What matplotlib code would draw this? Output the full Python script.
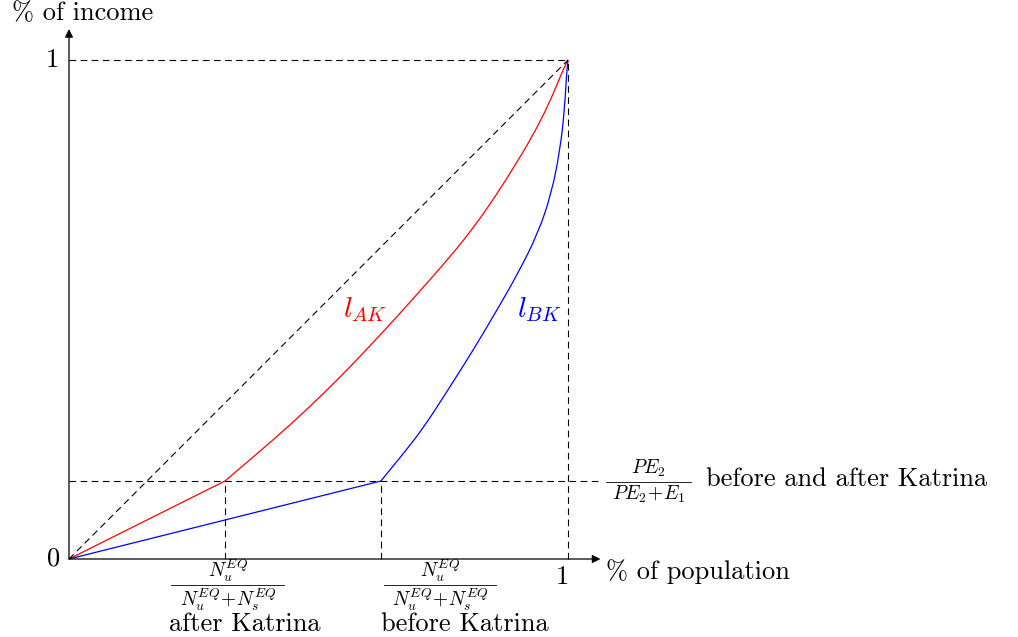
import matplotlib
matplotlib.use("Agg")
import matplotlib.pyplot as plt
from matplotlib.path import Path
from matplotlib.patches import PathPatch

plt.rcParams['mathtext.fontset'] = 'cm'
plt.rcParams['font.family'] = ['cmr10', 'DejaVu Serif']
plt.rcParams['axes.formatter.use_mathtext'] = True

# kink points (share of population, share of income)
x_after = 0.3126
x_before = 0.625
y_share = 0.1563

# l_AK (after Katrina)
ak_x = [0, 0.3126, 0.3788, 0.4429, 0.5030, 0.5671, 0.6273, 0.6874, 0.7635,
        0.8116, 0.8537, 0.8918, 0.9279, 0.9629, 0.9940, 1.0]
ak_y = [0, 0.1563, 0.2124, 0.2685, 0.3246, 0.3888, 0.4529, 0.5190, 0.6052,
        0.6653, 0.7255, 0.7856, 0.8457, 0.9138, 0.9900, 1.0]

# l_BK (before Katrina)
bk_x = [0, 0.625, 0.6713, 0.7114, 0.7595, 0.8102, 0.8597, 0.8998, 0.9399,
        0.9669, 0.9840, 0.9930, 0.9980, 1.0]
bk_y = [0, 0.1563, 0.2124, 0.2645, 0.3387, 0.4188, 0.5024, 0.5725, 0.6527,
        0.7329, 0.8196, 0.8998, 0.9866, 1.0]


def lorenz_path(xs, ys):
    # straight to the kink, then a smooth quadratic B-spline through the read points
    verts = [(xs[0], ys[0]), (xs[1], ys[1])]
    codes = [Path.MOVETO, Path.LINETO]
    n = len(xs)
    for i in range(2, n - 1):
        if i < n - 2:
            end = ((xs[i] + xs[i + 1]) / 2, (ys[i] + ys[i + 1]) / 2)
        else:
            end = (xs[-1], ys[-1])
        verts += [(xs[i], ys[i]), end]
        codes += [Path.CURVE3, Path.CURVE3]
    return Path(verts, codes)


fig = plt.figure(figsize=(10.18, 6.37), dpi=100)
ax = fig.add_axes([0, 0, 1, 1])
ax.set_xlim(-69 / 499, (1018 - 69) / 499)
ax.set_ylim(-78 / 499, (637 - 78) / 499)
ax.axis('off')

dash = dict(color='black', lw=0.8, dashes=(6, 4))
ax.plot([0, 1], [0, 1], **dash)
ax.plot([0, 1], [1, 1], **dash)
ax.plot([1, 1], [0, 1], **dash)
ax.plot([0, 1.06], [y_share, y_share], **dash)
ax.plot([x_after, x_after], [0, y_share], **dash)
ax.plot([x_before, x_before], [0, y_share], **dash)

ax.add_patch(PathPatch(lorenz_path(ak_x, ak_y), fc='none', ec='red', lw=0.9))
ax.add_patch(PathPatch(lorenz_path(bk_x, bk_y), fc='none', ec='blue', lw=0.9))

# axes with arrows
arrow = dict(arrowstyle='-|>', color='black', lw=0.9, mutation_scale=12, shrinkA=0, shrinkB=0)
ax.annotate('', xy=(1.065, 0), xytext=(0, 0), arrowprops=arrow)
ax.annotate('', xy=(0, 1.062), xytext=(0, 0), arrowprops=arrow)

fs = 19
ax.text(-0.1142, 1.0942, '% of income', fontsize=fs, ha='left', va='center')
ax.text(-0.02, 1.0, '1', fontsize=fs, ha='right', va='center')
ax.text(-0.018, 0.0, '0', fontsize=fs, ha='right', va='center')
ax.text(0.988, -0.036, '1', fontsize=fs, ha='center', va='center')
ax.text(1.0762, -0.026, '% of population', fontsize=fs, ha='left', va='center')

# compact fractions: numerator, bar, denominator
num_n = r'$N_u^{EQ}$'
den_n = r'$N_u^{EQ}\!+\!N_s^{EQ}$'
bar_y = -0.0521
ffs = 14
for xc in (0.3186, 0.7435):
    ax.text(xc, bar_y + 0.003, num_n, fontsize=ffs, ha='center', va='bottom')
    ax.plot([xc - 0.1132, xc + 0.1132], [bar_y, bar_y], color='black', lw=0.6)
    ax.text(xc, bar_y - 0.003, den_n, fontsize=ffs, ha='center', va='top')
ax.text(0.3527, -0.131, 'after Katrina', fontsize=fs, ha='center', va='center')
ax.text(0.7936, -0.131, 'before Katrina', fontsize=fs, ha='center', va='center')

xf = 1.1613
ax.text(xf, y_share + 0.004, r'$PE_2$', fontsize=ffs, ha='center', va='bottom')
ax.plot([xf - 0.085, xf + 0.085], [y_share - 0.001, y_share - 0.001], color='black', lw=0.6)
ax.text(xf, y_share - 0.006, r'$PE_2\!+\!E_1$', fontsize=ffs, ha='center', va='top')
ax.text(1.2766, y_share + 0.003, 'before and after Katrina', fontsize=fs, ha='left', va='center')

ax.text(0.593, 0.499, r'$l_{AK}$', fontsize=21, color='red', ha='center', va='center')
ax.text(0.942, 0.499, r'$l_{BK}$', fontsize=21, color='blue', ha='center', va='center')

fig.savefig('out.png', dpi=100)
